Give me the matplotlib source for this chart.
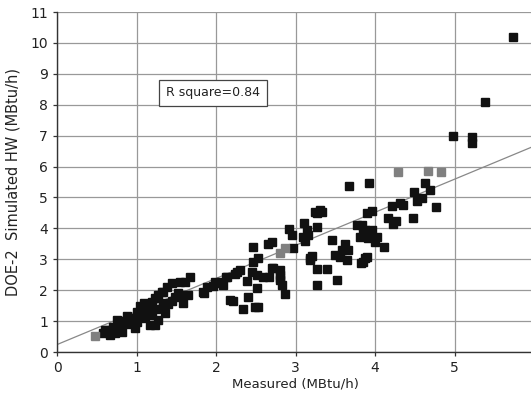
import numpy as np
import matplotlib
matplotlib.use("Agg")
import matplotlib.pyplot as plt

# measured vs DOE-2 simulated hot water load (MBtu/h)
measured = [
    5.74, 5.38, 4.98, 5.22, 5.22,
    3.92, 4.63, 4.69, 4.49, 4.53, 4.59, 4.77, 4.35, 4.21, 4.31, 4.48, 4.16, 4.23, 4.27,
    3.96, 3.90, 3.84, 3.87, 3.96, 4.02, 3.91, 4.00, 4.11, 3.87, 3.83,
    3.67, 3.31, 3.25, 2.92, 2.96, 3.11, 3.27, 3.14, 3.10, 3.16, 3.12, 3.77, 3.85, 3.81,
    3.46, 3.62, 3.66, 3.58, 3.50, 3.65, 3.56, 3.90, 3.85, 2.97, 2.70, 2.65, 3.21, 3.18,
    3.27, 3.40, 3.52, 3.27, 2.70, 2.80, 2.67, 2.80, 2.83, 2.87,
    2.46, 2.53, 2.46, 2.30, 2.24, 2.14, 2.05, 2.09, 1.99, 1.96, 1.89, 1.84, 2.45, 2.52,
    2.59, 2.39, 2.52, 2.40, 2.18, 2.21, 2.34, 2.49, 2.53, 1.67, 1.61, 1.55, 1.45, 1.38,
    1.58, 1.52, 1.48, 1.65, 1.58, 1.33, 1.33, 1.36,
    2.27, 2.12, 2.03, 1.85, 2.72, 2.80, 2.80, 3.18, 3.27, 3.33,
    0.58, 0.64, 0.70, 0.75, 0.79, 0.82, 0.67, 0.73, 0.88, 0.94, 0.98, 1.01, 1.04, 1.08,
    1.11, 1.17, 1.14, 1.19, 1.23, 1.27, 1.32, 1.27, 1.23, 1.33, 0.75, 0.80, 1.05, 1.15,
    1.25, 1.20, 1.00, 1.40, 1.45, 1.10, 0.90, 0.60,
]
simulated = [
    10.20, 8.09, 7.00, 6.96, 6.76,
    5.47, 5.47, 5.24, 5.18, 4.89, 4.98, 4.69, 4.76, 4.72, 4.82, 4.34, 4.34, 4.14, 4.24,
    4.56, 4.50, 4.10, 3.95, 3.95, 3.73, 3.69, 3.56, 3.41, 3.04, 2.88,
    5.37, 4.60, 4.53, 3.98, 3.79, 4.17, 4.05, 3.95, 3.73, 3.79, 3.59, 4.11, 3.95, 3.73,
    3.62, 3.50, 3.30, 3.30, 3.14, 2.98, 3.07, 3.07, 2.91, 3.37, 3.56, 3.50, 3.10, 2.98,
    2.68, 2.68, 2.33, 2.17, 2.72, 2.65, 2.43, 2.40, 2.17, 1.88,
    3.40, 3.04, 2.91, 2.65, 2.52, 2.43, 2.27, 2.17, 2.27, 2.14, 2.10, 1.94, 2.59, 2.49,
    2.43, 2.30, 2.07, 1.78, 1.68, 1.65, 1.39, 1.46, 1.46, 2.43, 2.27, 2.27, 2.23, 2.10,
    1.84, 1.91, 1.78, 1.84, 1.59, 1.94, 1.59, 1.26,
    2.59, 2.43, 2.23, 1.91, 2.72, 2.49, 2.33, 3.04, 4.50, 4.53,
    0.61, 0.71, 0.81, 1.04, 0.87, 0.65, 0.55, 0.61, 1.17, 1.10, 0.78, 0.97, 1.20, 1.36,
    1.10, 0.87, 1.46, 1.62, 1.75, 1.84, 1.94, 1.04, 0.87, 1.46, 0.71, 1.00, 1.50, 1.30,
    1.40, 1.20, 1.30, 1.55, 1.65, 1.60, 0.90, 0.70,
]

# lighter-printed points
measured_lt = [2.87, 2.80, 4.29, 4.67, 4.83, 0.48]
simulated_lt = [3.37, 3.20, 5.83, 5.86, 5.83, 0.52]

# linear fit
fit_slope = 1.07
fit_intercept = 0.24
r_square = 0.84

plt.rcParams['font.family'] = ['DejaVu Sans']

fig = plt.figure(figsize=(5.31, 3.96), dpi=100)
ax = fig.add_axes([57/531, 44/396, 477/531, 340/396])

ax.plot(measured, simulated, 's', color='#111111', markersize=5.6, mec='#111111', zorder=3)
ax.plot(measured_lt, simulated_lt, 's', color='#808080', markersize=5.6, mec='#808080', zorder=3)

xs = np.array([0, 6])
ax.plot(xs, fit_slope*xs + fit_intercept, '-', color='#888888', lw=0.9, zorder=2)

ax.set_xlim(0, 6)
ax.set_ylim(0, 11)
ax.set_xticks(range(0, 7))
ax.set_yticks(range(0, 12))
ax.grid(True, color='#999999', lw=0.9)
ax.set_axisbelow(True)
for s in ['top', 'right']:
    ax.spines[s].set_visible(False)
for s in ['left', 'bottom']:
    ax.spines[s].set_color('#333333')
    ax.spines[s].set_linewidth(1.0)
ax.tick_params(direction='out', length=3, width=0.9, color='#333333',
               labelsize=10, labelcolor='#222222')

ax.set_xlabel('Measured (MBtu/h)', fontsize=9.5, color='#222222', labelpad=2)
ax.set_ylabel('DOE-2  Simulated HW (MBtu/h)', fontsize=10.5, color='#222222', labelpad=7)

ax.text(1.96, 8.38, 'R square=%.2f' % r_square, fontsize=9, ha='center', va='center',
        color='#222222', zorder=4,
        bbox=dict(boxstyle='square,pad=0.55', fc='white', ec='#444444', lw=0.9))

fig.savefig('out.png', dpi=100)
